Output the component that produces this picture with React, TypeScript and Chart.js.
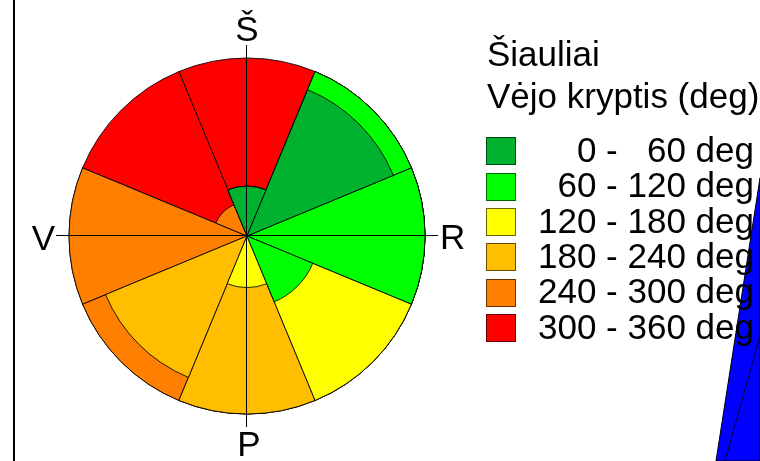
import React, { useEffect, useRef } from "react";
import { Chart, registerables } from "chart.js";

Chart.register(...registerables);

// Sectors (compass directions, clockwise from north)
const SECTORS = ["Š", "ŠR", "R", "PR", "P", "PV", "V", "ŠV"];

// Direction bins (legend)
const BIN_LABELS = [
  "0 -   60 deg",
  "60 - 120 deg",
  "120 - 180 deg",
  "180 - 240 deg",
  "240 - 300 deg",
  "300 - 360 deg",
];
const BIN_COLORS = ["#00B22D", "#00FF00", "#FFFF00", "#FFBF00", "#FF8000", "#FF0000"];

// Share (%) of each bin within every sector
const BIN_0_60 = [28, 89, 0, 0, 0, 0, 0, 0];
const BIN_60_120 = [0, 11, 100, 40, 0, 0, 0, 0];
const BIN_120_180 = [0, 0, 0, 60, 29, 0, 0, 0];
const BIN_180_240 = [0, 0, 0, 0, 71, 86, 0, 0];
const BIN_240_300 = [0, 0, 0, 0, 0, 14, 100, 19];
const BIN_300_360 = [72, 0, 0, 0, 0, 0, 0, 81];

const COMPASS_TOP = "Š";
const COMPASS_RIGHT = "R";
const COMPASS_BOTTOM = "P";
const COMPASS_LEFT = "V";

const TITLE = "Šiauliai";
const SUBTITLE = "Vėjo kryptis (deg)";

const FONT = '"Liberation Sans", Arial, sans-serif';

const compassPlugin = {
  id: "compass",
  afterDatasetsDraw(chart: any) {
    const s = chart.scales.r;
    const ctx = chart.ctx;
    const cx = s.xCenter;
    const cy = s.yCenter;
    const R = s.drawingArea;
    const ext = R + 13;
    ctx.save();
    ctx.strokeStyle = "#000";
    ctx.lineWidth = 1;
    ctx.beginPath();
    ctx.moveTo(cx - 0.5, cy - ext);
    ctx.lineTo(cx - 0.5, cy + ext);
    ctx.moveTo(cx - ext, cy - 0.5);
    ctx.lineTo(cx + ext, cy - 0.5);
    ctx.stroke();
    ctx.font = "35px " + FONT;
    ctx.fillStyle = "#000";
    ctx.textBaseline = "alphabetic";
    ctx.textAlign = "center";
    ctx.fillText(COMPASS_TOP, cx, cy - ext - 4);
    ctx.fillText(COMPASS_BOTTOM, cx + 2, cy + R + 42);
    ctx.textAlign = "right";
    ctx.fillText(COMPASS_LEFT, cx - ext - 1, cy + 14);
    ctx.textAlign = "left";
    ctx.fillText(COMPASS_RIGHT, cx + ext + 2, cy + 13);
    ctx.restore();
  },
};

export default function App() {
  const canvasRef = useRef<HTMLCanvasElement | null>(null);

  useEffect(() => {
    document.body.style.margin = "0";
    const bins = [BIN_0_60, BIN_60_120, BIN_120_180, BIN_180_240, BIN_240_300, BIN_300_360];
    const cumulative: number[][] = [];
    bins.forEach((b, k) => {
      cumulative.push(b.map((v, i) => v + (k > 0 ? cumulative[k - 1][i] : 0)));
    });
    const datasets = cumulative.map((data, k) => ({
      label: BIN_LABELS[k],
      data,
      backgroundColor: BIN_COLORS[k],
      borderColor: "rgba(0,0,0,0.85)",
      borderWidth: 1,
    }));
    const chart = new Chart(canvasRef.current as HTMLCanvasElement, {
      type: "polarArea",
      data: { labels: SECTORS, datasets },
      options: {
        responsive: false,
        animation: false,
        layout: { padding: { left: 69, right: 335, top: 58, bottom: 47 } },
        plugins: { legend: { display: false }, tooltip: { enabled: false } },
        scales: {
          r: {
            min: 0,
            max: 100,
            startAngle: -22.5,
            ticks: { display: false },
            grid: { display: false },
            angleLines: { display: false },
            pointLabels: { display: false },
          },
        },
      } as any,
      plugins: [compassPlugin],
    });
    return () => chart.destroy();
  }, []);

  const textStyle: React.CSSProperties = {
    position: "absolute",
    fontFamily: FONT,
    fontSize: 35,
    lineHeight: "35px",
    color: "#000",
    whiteSpace: "pre",
  };
  const BASE = 29.6;

  return (
    <div
      style={{
        position: "fixed",
        left: 0,
        top: 0,
        width: 760,
        height: 461,
        overflow: "hidden",
        background: "#fff",
      }}
    >
      <div style={{ position: "absolute", left: 13, top: 0, width: 2, height: 461, background: "#000" }} />
      <canvas ref={canvasRef} width={760} height={461} style={{ position: "absolute", left: 0, top: 0 }} />
      <svg width={760} height={461} style={{ position: "absolute", left: 0, top: 0 }}>
        <polygon points="760,178 716,461 760,461" fill="#0000FF" stroke="#000" strokeWidth={1} />
        <line x1={725} y1={461} x2={760} y2={336} stroke="#000" strokeWidth={0.8} />
      </svg>
      <div style={{ ...textStyle, left: 487, top: 66 - BASE }}>{TITLE}</div>
      <div style={{ ...textStyle, left: 487, top: 108 - BASE }}>{SUBTITLE}</div>
      {BIN_LABELS.map((label, i) => {
        const boxTop = 137.3 + i * 35.33;
        return (
          <React.Fragment key={label}>
            <div
              style={{
                position: "absolute",
                left: 486,
                top: boxTop,
                width: 30,
                height: 28,
                boxSizing: "border-box",
                background: BIN_COLORS[i],
                border: "1px solid rgba(0,0,0,0.6)",
              }}
            />
            <div style={{ ...textStyle, right: 6, top: boxTop + 24.4 - BASE, textAlign: "right" }}>{label}</div>
          </React.Fragment>
        );
      })}
    </div>
  );
}
